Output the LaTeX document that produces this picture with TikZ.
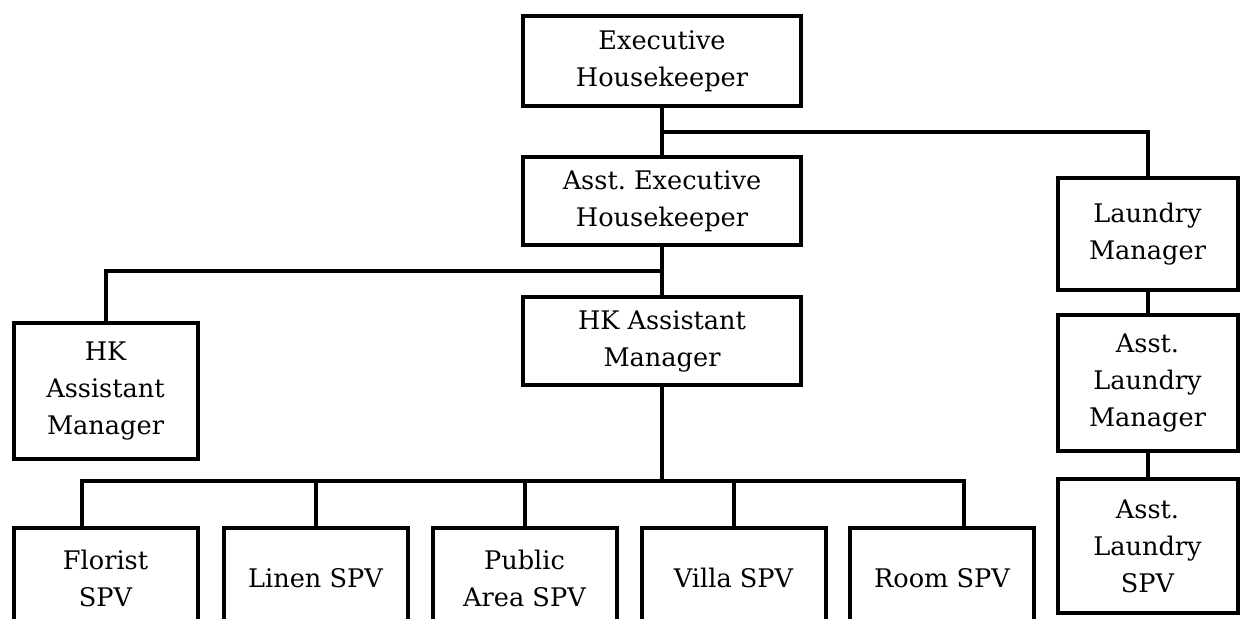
\documentclass[tikz,border=0pt]{standalone}
\usepackage{fontspec}
\setmainfont{DejaVu Serif}
\usetikzlibrary{calc}
\tikzset{
    post/.style={draw, line width=2pt, fill=white, align=center, inner sep=0pt,
        font=\fontsize{12.8}{18.5}\selectfont},
    spv/.style={post, minimum width=92pt, minimum height=50pt},
    link/.style={line width=2pt}
}
\begin{document}
\begin{tikzpicture}[x=0.5pt, y=-0.5pt]
\useasboundingbox (0,0) rectangle (1245,618);
\clip (0,0) rectangle (1245,618);

\node [post, minimum width=139pt, minimum height=45pt] (exec) at (662,61) {Executive\\Housekeeper};
\node [post, minimum width=139pt, minimum height=44pt] (aexec) at (662,201) {Asst.\ Executive\\Housekeeper};
\node [post, minimum width=139pt, minimum height=44pt] (hkmid) at (662,341) {HK Assistant\\Manager};
\node [post, minimum width=92pt, minimum height=68pt] (hkleft) at (105.5,390.5) {HK\\Assistant\\Manager};

\node [post, minimum width=90pt, minimum height=56pt] (laundry) at (1147.5,234) {Laundry\\Manager};
\node [post, minimum width=90pt, minimum height=68pt] (alaundry) at (1147.5,383) {Asst.\\Laundry\\Manager};
\node [post, minimum width=90pt, minimum height=67pt] (alspv) at (1147.5,546) {Asst.\\Laundry\\SPV};

% bottom row runs off the page
\node [spv] (florist) at (105.5,578) {Florist\\SPV};
\node [spv] (linen) at (315.5,578) {Linen SPV};
\node [spv] (public) at (524.5,578) {Public\\Area SPV};
\node [spv] (villa) at (733.5,578) {Villa SPV};
\node [spv] (room) at (942,578) {Room SPV};

\draw [link] (exec.south) -- (aexec.north);
\draw [link] ($(exec.south)!0.5!(aexec.north)$) -| (laundry.north);
\draw [link] (aexec.south) -- (hkmid.north);
\draw [link] ($(aexec.south)!0.5!(hkmid.north)$) -| (hkleft.north);
\draw [link] (laundry.south) -- (alaundry.north);
\draw [link] (alaundry.south) -- (alspv.north);

\coordinate (bus) at (662,481);
\draw [link] (hkmid.south) -- (bus);
\draw [link] ([xshift=-11.75pt]florist.north) |- (bus) -| ([xshift=11pt]room.north);
\foreach \n in {linen,public,villa}
    \draw [link] (\n.north) -- (\n.north |- bus);
\end{tikzpicture}
\end{document}
